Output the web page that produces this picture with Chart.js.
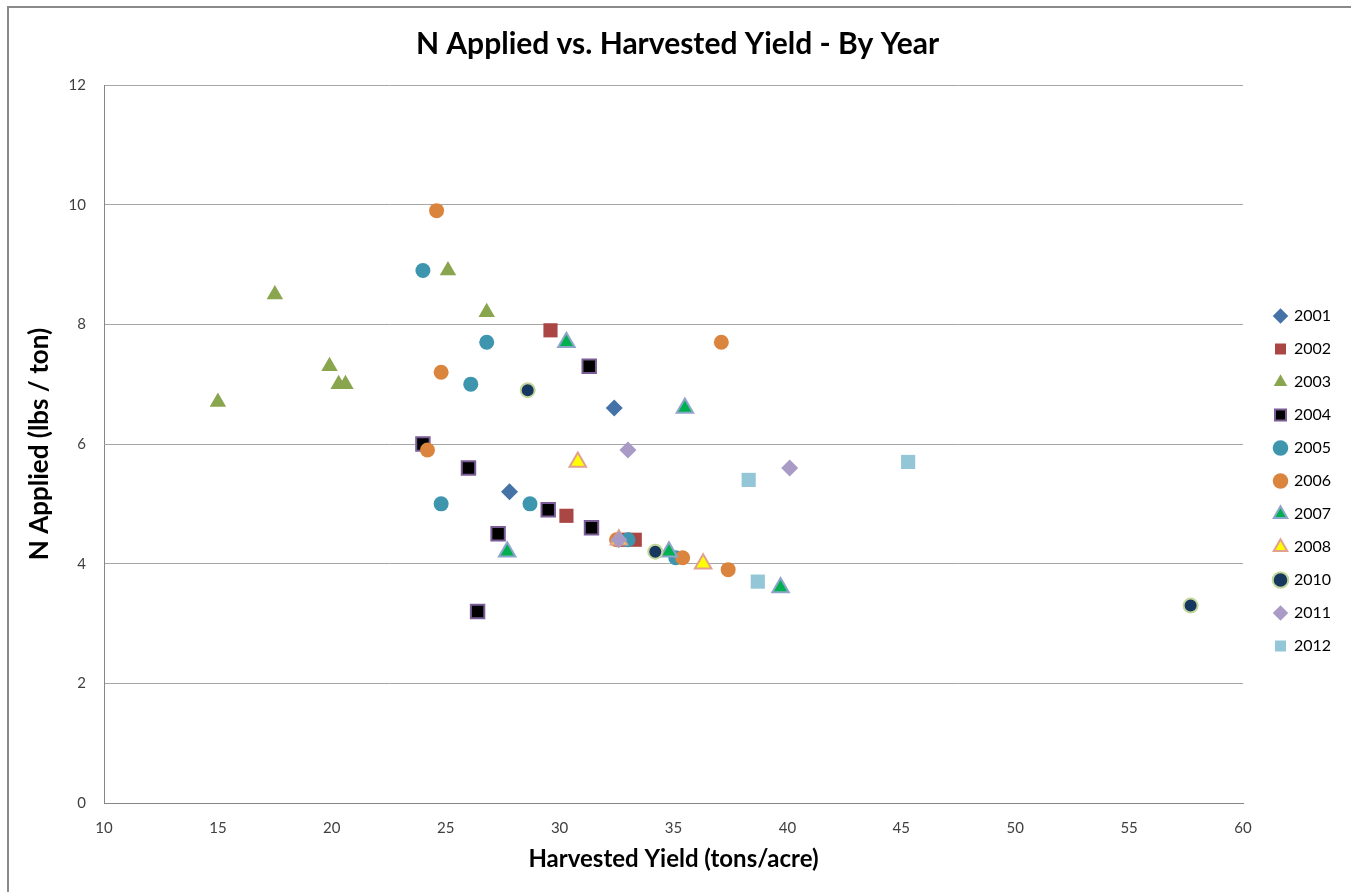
<!DOCTYPE html>
<html>
<head>
<meta charset="utf-8">
<title>N Applied vs. Harvested Yield - By Year</title>
<script src="https://cdn.jsdelivr.net/npm/chart.js@4/dist/chart.umd.min.js"></script>
<style>
  html, body { margin: 0; padding: 0; background: #ffffff; }
  #wrap { position: relative; width: 1351px; height: 892px; }
</style>
</head>
<body>
<div id="wrap"><canvas id="chart" width="1351" height="892"></canvas></div>
<script>
// Harvested yield (tons/acre) and N applied (lbs/ton), one pair of arrays per year
const yield2001 = [32.4, 27.8];
const n2001     = [6.6, 5.2];
const yield2002 = [29.6, 30.3, 32.8, 33.3];
const n2002     = [7.9, 4.8, 4.4, 4.4];
const yield2003 = [15.0, 17.5, 19.9, 20.3, 20.6, 25.1, 26.8];
const n2003     = [6.7, 8.5, 7.3, 7.0, 7.0, 8.9, 8.2];
const yield2004 = [24.0, 26.0, 27.3, 29.5, 31.4, 31.3, 26.4];
const n2004     = [6.0, 5.6, 4.5, 4.9, 4.6, 7.3, 3.2];
const yield2005 = [24.0, 26.8, 26.1, 24.8, 28.7, 33.0, 35.1];
const n2005     = [8.9, 7.7, 7.0, 5.0, 5.0, 4.4, 4.1];
const yield2006 = [24.6, 24.8, 24.2, 37.1, 35.4, 37.4, 32.5];
const n2006     = [9.9, 7.2, 5.9, 7.7, 4.1, 3.9, 4.4];
const yield2007 = [30.3, 35.5, 27.7, 34.8, 39.7];
const n2007     = [7.7, 6.6, 4.2, 4.2, 3.6];
const yield2008 = [30.8, 36.3, 32.6];
const n2008     = [5.7, 4.0, 4.4];
const yield2010 = [28.6, 34.2, 57.7];
const n2010     = [6.9, 4.2, 3.3];
const yield2011 = [33.0, 40.1, 32.6];
const n2011     = [5.9, 5.6, 4.4];
const yield2012 = [38.3, 45.3, 38.7];
const n2012     = [5.4, 5.7, 3.7];

const years = ['2001', '2002', '2003', '2004', '2005', '2006', '2007', '2008', '2010', '2011', '2012'];
const yieldByYear = [yield2001, yield2002, yield2003, yield2004, yield2005, yield2006, yield2007, yield2008, yield2010, yield2011, yield2012];
const nByYear = [n2001, n2002, n2003, n2004, n2005, n2006, n2007, n2008, n2010, n2011, n2012];

const xTicks = [10, 15, 20, 25, 30, 35, 40, 45, 50, 55, 60];
const yTicks = [0, 2, 4, 6, 8, 10, 12];

// Marker look for each year
const markerStyles = [
  { shape: 'rectRot',  fill: '#4572A7', stroke: '#4572A7', width: 0, r: 8.5 },
  { shape: 'rect',     fill: '#AA4643', stroke: '#AA4643', width: 0, r: 10 },
  { shape: 'triangle', fill: '#89A54E', stroke: '#89A54E', width: 0, r: 9.5 },
  { shape: 'rect',     fill: '#000000', stroke: '#7A5D96', width: 2, r: 9.5 },
  { shape: 'circle',   fill: '#3D96AE', stroke: '#3D96AE', width: 0, r: 7.5 },
  { shape: 'circle',   fill: '#DB843D', stroke: '#DB843D', width: 0, r: 7.5 },
  { shape: 'triangle', fill: '#00B050', stroke: '#8EA5CB', width: 2, r: 9.5 },
  { shape: 'triangle', fill: '#FFFF00', stroke: '#E2A08F', width: 2, r: 9.5 },
  { shape: 'circle',   fill: '#17375E', stroke: '#C3D69B', width: 2, r: 7 },
  { shape: 'rectRot',  fill: '#A99BC6', stroke: '#A99BC6', width: 0, r: 8.5 },
  { shape: 'rect',     fill: '#93C6D6', stroke: '#93C6D6', width: 0, r: 10 }
];

const datasets = years.map((year, i) => {
  const s = markerStyles[i];
  return {
    label: year,
    data: yieldByYear[i].map((x, k) => ({ x: x, y: nByYear[i][k] })),
    pointStyle: s.shape,
    pointRadius: s.r,
    pointHoverRadius: s.r,
    backgroundColor: s.fill,
    borderColor: s.stroke,
    pointBorderWidth: s.width,
    borderWidth: s.width,
    showLine: false,
    order: years.length - i   // later years drawn on top
  };
});

// Thin grey frame along the top and left edges of the chart
const framePlugin = {
  id: 'frame',
  beforeDraw(chart) {
    const ctx = chart.ctx;
    ctx.save();
    ctx.fillStyle = '#ffffff';
    ctx.fillRect(0, 0, chart.width, chart.height);
    ctx.strokeStyle = '#8a8a8a';
    ctx.lineWidth = 2;
    ctx.beginPath();
    ctx.moveTo(8, chart.height);
    ctx.lineTo(8, 7);
    ctx.lineTo(chart.width, 7);
    ctx.stroke();
    ctx.restore();
  }
};

// Fixed-width legend column on the right, with its items nudged into place
const legendPlacement = {
  id: 'legendPlacement',
  beforeInit(chart) {
    const legend = chart.legend;
    if (!legend) return;
    const originalFit = legend.fit;
    legend.fit = function () {
      originalFit.call(this);
      this.width = 100;
    };
  },
  afterLayout(chart) {
    const legend = chart.legend;
    if (!legend) return;
    legend.left += 15;
    legend.right += 15;
    legend.top += 40;
    legend.bottom += 40;
  }
};

new Chart(document.getElementById('chart'), {
  type: 'scatter',
  data: { datasets: datasets },
  plugins: [framePlugin, legendPlacement],
  options: {
    responsive: false,
    animation: false,
    layout: { padding: { left: 12, right: 8, top: 0, bottom: 10 } },
    plugins: {
      title: {
        display: true,
        text: 'N Applied vs. Harvested Yield - By Year',
        color: '#000000',
        font: { family: 'Lato', size: 30, weight: 'bold' },
        padding: { top: 26, bottom: 23 }
      },
      legend: {
        position: 'right',
        align: 'center',
        labels: {
          usePointStyle: true,
          color: '#000000',
          font: { family: 'Lato', size: 16 },
          boxWidth: 11,
          boxHeight: 11,
          padding: 17,
          sort: (a, b) => a.datasetIndex - b.datasetIndex
        }
      },
      tooltip: { enabled: false }
    },
    scales: {
      x: {
        type: 'linear',
        min: xTicks[0],
        max: xTicks[xTicks.length - 1],
        afterBuildTicks: (scale) => { scale.ticks = xTicks.map(v => ({ value: v })); },
        afterFit: (scale) => { scale.height = 79; },
        grid: { display: false, drawTicks: false },
        border: { display: true, color: '#868686', width: 1 },
        ticks: {
          color: '#404040',
          font: { family: 'Lato', size: 15 },
          padding: 16
        },
        title: {
          display: true,
          text: 'Harvested Yield (tons/acre)',
          color: '#000000',
          font: { family: 'Lato', size: 24, weight: 'bold' },
          padding: { top: 6, bottom: 8 }
        }
      },
      y: {
        type: 'linear',
        min: yTicks[0],
        max: yTicks[yTicks.length - 1],
        afterBuildTicks: (scale) => { scale.ticks = yTicks.map(v => ({ value: v })); },
        afterFit: (scale) => { scale.width = 92; },
        grid: { display: true, color: '#a6a6a6', lineWidth: 1, drawTicks: false },
        border: { display: true, color: '#868686', width: 1 },
        ticks: {
          color: '#404040',
          font: { family: 'Lato', size: 15 },
          padding: 18
        },
        title: {
          display: true,
          text: 'N Applied (lbs / ton)',
          color: '#000000',
          font: { family: 'Lato', size: 26, weight: 'bold' },
          padding: { top: 12, bottom: 0 }
        }
      }
    }
  }
});
</script>
</body>
</html>
